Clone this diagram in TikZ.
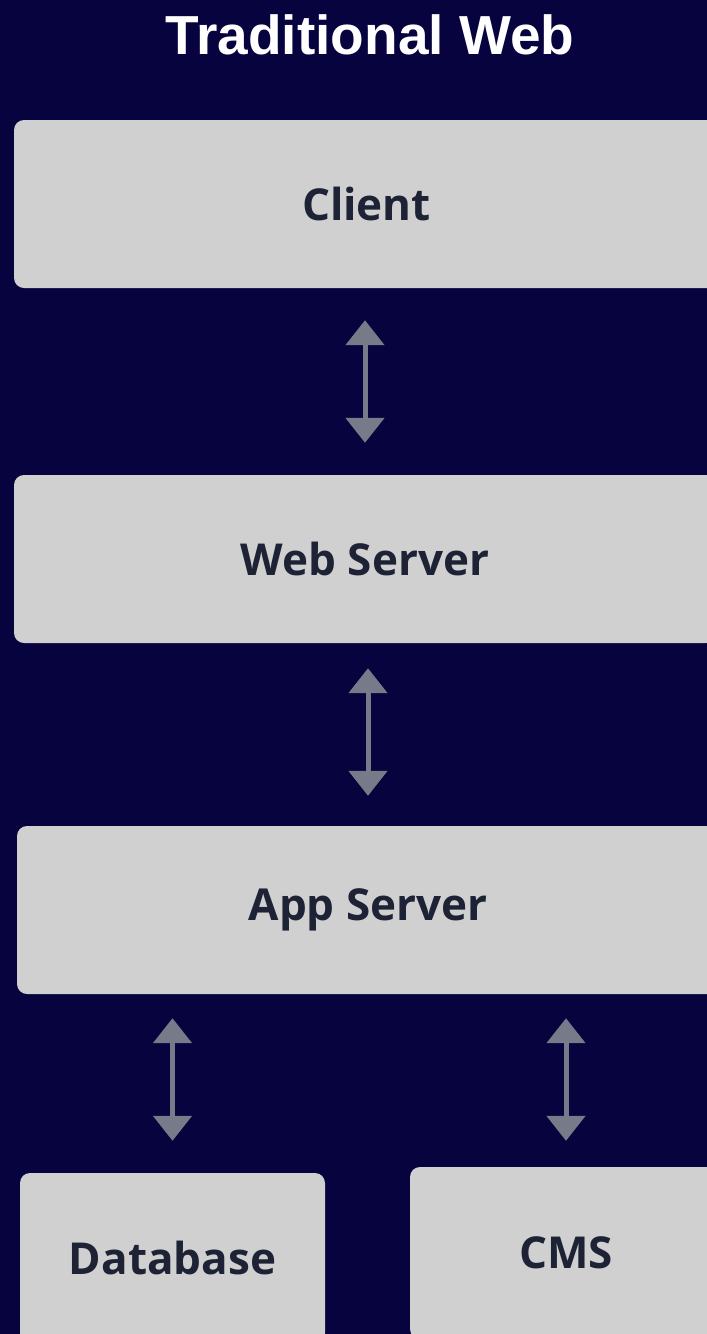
\documentclass[tikz,border=0pt]{standalone}
\usepackage{fontspec}
\setmainfont{Open Sans}
\newfontfamily\headfont{Liberation Sans}
\usetikzlibrary{arrows.meta,calc}

\definecolor{bgnavy}{HTML}{06033E}
\definecolor{boxgray}{HTML}{D0D0D0}
\definecolor{boxtext}{HTML}{1E2235}
\definecolor{arrowgray}{HTML}{777A88}

\tikzset{
  tier/.style={fill=boxgray, rounded corners=10pt, inner sep=0pt,
    text=boxtext, font=\fontsize{44}{48}\selectfont\bfseries},
  biarrow/.style={draw=arrowgray, line width=5pt,
    {Triangle[width=38pt,length=25pt]}-{Triangle[width=38pt,length=25pt]}},
}

\begin{document}
\begin{tikzpicture}[x=1pt,y=-1pt]
  \clip (0,0) rectangle (707,1334);
  \fill[bgnavy] (0,0) rectangle (707,1334);

  \node[text=white, font=\headfont\fontsize{55}{60}\selectfont\bfseries]
    (title) at (370,35) {Traditional Web};

  \node[tier, minimum width=705pt, minimum height=168pt] (client) at (366.5,204) {Client};
  \node[tier, minimum width=702pt, minimum height=168pt] (web) at (365,559) {Web Server};
  \node[tier, minimum width=702pt, minimum height=168pt] (app) at (368,910) {App Server};
  \node[tier, minimum width=305pt, minimum height=170pt] (db) at (172.5,1258) {Database};
  \node[tier, minimum width=312pt, minimum height=172pt] (cms) at (566,1253) {CMS};

  \draw[biarrow, shorten <=32pt, shorten >=32pt] (web.north |- client.south) -- (web.north);
  \draw[biarrow, shorten <=25pt, shorten >=30pt] (app.north |- web.south) -- (app.north);
  \draw[biarrow, shorten <=24pt, shorten >=32pt] (db.north |- app.south) -- (db.north);
  \draw[biarrow, shorten <=24pt, shorten >=26pt] (cms.north |- app.south) -- (cms.north);
\end{tikzpicture}
\end{document}
